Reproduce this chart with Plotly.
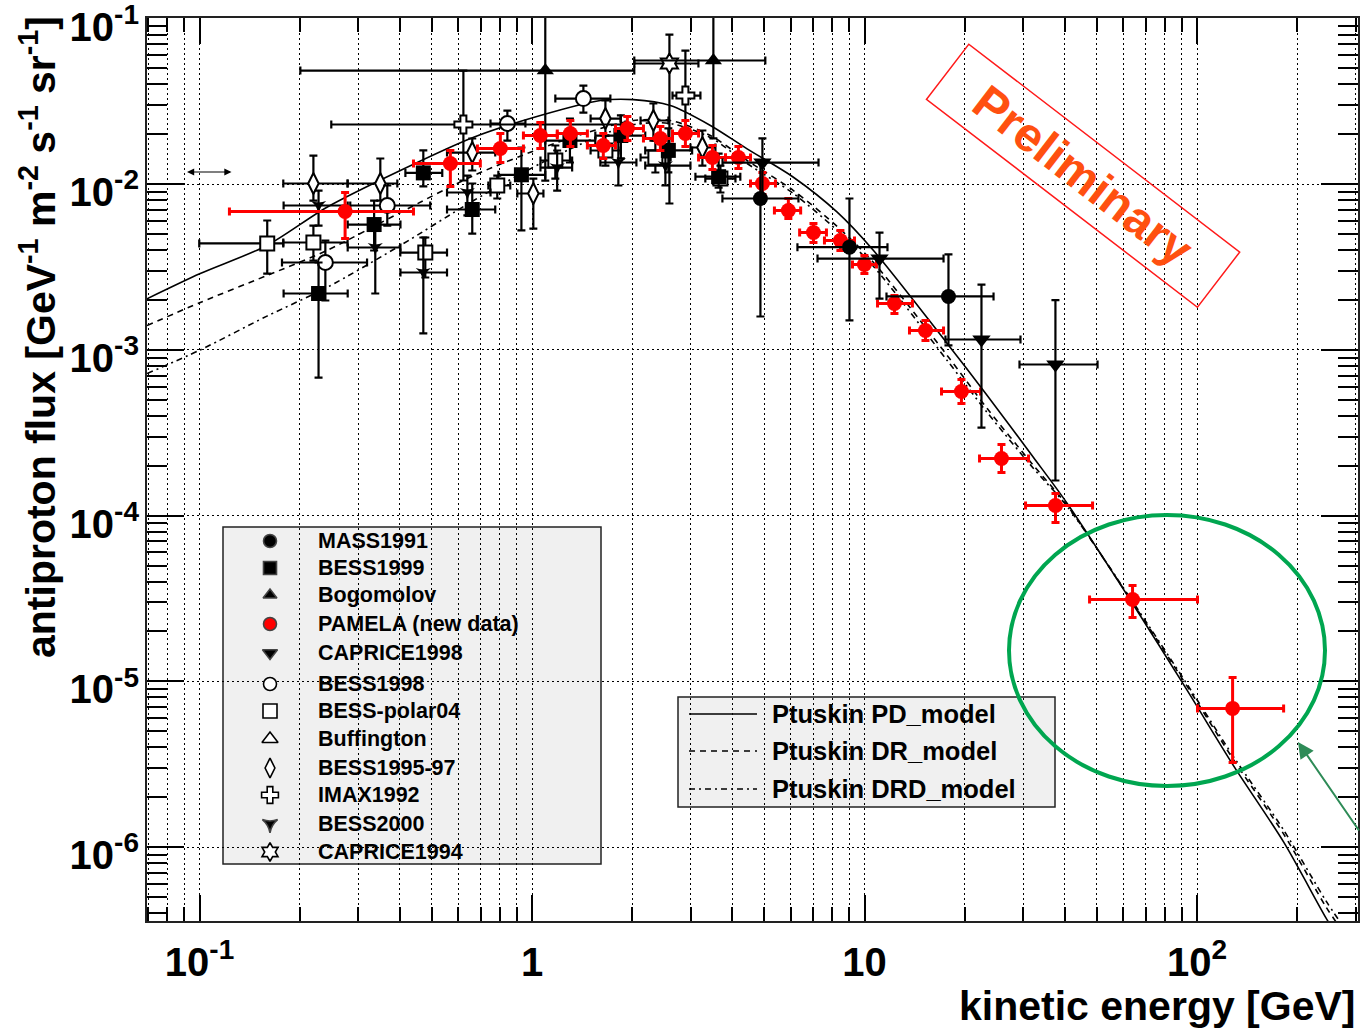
import plotly.graph_objects as go

# ---------------- model curves (Ptuskin et al.) ----------------
model_E = [0.0695, 0.1005, 0.1595, 0.2416, 0.4016, 0.6673, 1.059, 1.605, 2.018, 2.606,
           3.439, 4.435, 6.11, 8.274, 10.64, 17.72, 23.38, 32.22, 40.69, 64.54,
           93.4, 129.1, 182.4, 243.6, 270.0]
pd_flux = [2.035e-3, 2.89e-3, 4.27e-3, 7.26e-3, 1.21e-2, 1.921e-2, 2.597e-2, 3.20e-2, 3.24e-2, 2.985e-2,
           2.263e-2, 1.635e-2, 1.102e-2, 6.78e-3, 3.98e-3, 1.094e-3, 5.31e-4, 2.244e-4, 1.185e-4, 2.871e-5,
           8.82e-6, 3.07e-6, 1.067e-6, 3.77e-7, 2.69e-7]
dr_flux = [1.404e-3, 1.933e-3, 2.813e-3, 3.981e-3, 6.75e-3, 1.128e-2, 1.642e-2, 2.168e-2, 2.423e-2, 2.423e-2,
           1.967e-2, 1.39e-2, 9.16e-3, 5.56e-3, 3.37e-3, 9.26e-4, 4.43e-4, 2.009e-4, 1.152e-4, 2.913e-5,
           9.32e-6, 3.335e-6, 1.193e-6, 4.39e-7, 3.23e-7]
drd_flux = [7.2e-4, 1.0e-3, 1.6e-3, 2.381e-3, 4.27e-3, 7.97e-3, 1.333e-2, 1.967e-2, 2.292e-2, 2.324e-2,
            1.913e-2, 1.333e-2, 8.79e-3, 5.26e-3, 3.19e-3, 8.64e-4, 4.19e-4, 1.927e-4, 1.136e-4, 2.953e-5,
            9.58e-6, 3.48e-6, 1.261e-6, 4.77e-7, 3.51e-7]

# ---------------- measurements: E [GeV], flux, bin edges, flux error limits ----------------
pamela_E = [0.274, 0.568, 0.803, 1.059, 1.304, 1.638, 1.935, 2.432, 2.892, 3.487, 4.175, 4.93,
            5.90, 7.02, 8.46, 9.99, 12.3, 15.25, 19.56, 25.81, 37.52, 63.97, 127.9]
pamela_F = [6.84e-3, 1.333e-2, 1.642e-2, 1.967e-2, 2.022e-2, 1.712e-2, 2.168e-2, 1.887e-2, 2.022e-2,
            1.449e-2, 1.449e-2, 1.01e-2, 6.94e-3, 5.11e-3, 4.57e-3, 3.28e-3, 1.906e-3, 1.31e-3,
            5.61e-4, 2.214e-4, 1.152e-4, 3.12e-5, 6.87e-6]
pamela_Elo = [0.123, 0.44, 0.685, 0.942, 1.191, 1.467, 1.782, 2.163, 2.645, 3.168, 3.818, 4.539,
              5.357, 6.379, 7.575, 9.197, 10.94, 13.65, 17.04, 22.17, 30.49, 47.5, 100.3]
pamela_Ehi = [0.44, 0.699, 0.942, 1.191, 1.467, 1.782, 2.163, 2.645, 3.168, 3.818, 4.539, 5.397,
              6.424, 7.68, 9.326, 10.86, 13.93, 17.28, 22.33, 31.13, 48.5, 100.3, 182.1]
pamela_Flo = [4.70e-3, 9.69e-3, 1.352e-2, 1.642e-2, 1.688e-2, 1.429e-2, 1.835e-2, 1.597e-2, 1.688e-2,
              1.227e-2, 1.244e-2, 8.67e-3, 6.21e-3, 4.45e-3, 3.98e-3, 2.89e-3, 1.659e-3, 1.14e-3,
              4.75e-4, 1.823e-4, 9.1e-5, 2.43e-5, 3.24e-6]
pamela_Fhi = [8.91e-3, 1.597e-2, 2.022e-2, 2.356e-2, 2.423e-2, 2.022e-2, 2.561e-2, 2.229e-2, 2.423e-2,
              1.712e-2, 1.688e-2, 1.177e-2, 8.20e-3, 5.79e-3, 5.26e-3, 3.71e-3, 2.131e-3, 1.506e-3,
              6.63e-4, 2.69e-4, 1.361e-4, 3.79e-5, 1.056e-5]

mass91_E = [4.862, 9.007, 17.88]
mass91_F = [8.2e-3, 4.17e-3, 2.102e-3]
mass91_Elo = [3.737, 6.283, 11.64]
mass91_Ehi = [6.327, 11.72, 24.43]
mass91_Flo = [1.591e-3, 1.506e-3, 1.064e-3]
mass91_Fhi = [1.39e-2, 8.2e-3, 3.77e-3]

bess99_E = [0.228, 0.335, 0.471, 0.661, 0.929, 1.30, 1.85, 2.57, 3.64]
bess99_F = [2.19e-3, 5.71e-3, 1.17e-2, 7.04e-3, 1.14e-2, 1.835e-2, 1.967e-2, 1.6e-2, 1.11e-2]
bess99_Elo = [0.179, 0.279, 0.416, 0.555, 0.792, 1.096, 1.55, 2.19, 3.10]
bess99_Ehi = [0.279, 0.402, 0.537, 0.775, 1.096, 1.55, 2.19, 3.03, 4.23]
bess99_Flo = [6.8e-4, 3.98e-3, 9.7e-3, 5.04e-3, 5.26e-3, 1.352e-2, 1.43e-2, 1.18e-2, 9.55e-3]
bess99_Fhi = [3.37e-3, 7.97e-3, 1.6e-2, 1.01e-2, 1.665e-2, 2.49e-2, 2.6e-2, 2.17e-2, 1.53e-2]

bogo_E = [1.096, 3.51]
bogo_F = [4.85e-2, 5.58e-2]
bogo_Elo = [0.201, 2.03]
bogo_Ehi = [2.03, 5.03]
bogo_Flo = [1.05e-2, 1.89e-2]
bogo_Fhi = [0.15, 0.15]

caprice98_E = [4.93, 11.09, 22.47, 37.5]
caprice98_F = [1.35e-2, 3.56e-3, 1.156e-3, 8.17e-4]
caprice98_Elo = [3.74, 7.22, 17.51, 29.24]
caprice98_Ehi = [7.27, 17.28, 29.44, 50.2]
caprice98_Flo = [7.97e-3, 2.04e-3, 3.4e-4, 1.63e-4]
caprice98_Fhi = [1.89e-2, 5.11e-3, 2.48e-3, 2.0e-3]

bess98_E = [0.239, 0.367, 0.843, 1.427]
bess98_F = [3.37e-3, 7.44e-3, 2.324e-2, 3.289e-2]
bess98_Elo = [0.177, 0.284, 0.75, 1.175]
bess98_Ehi = [0.319, 0.494, 0.955, 1.72]
bess98_Flo = [1.987e-3, 5.63e-3, 1.835e-2, 2.707e-2]
bess98_Fhi = [4.57e-3, 9.82e-3, 2.783e-2, 3.94e-2]

polar04_E = [0.1598, 0.22, 0.4775, 0.786, 1.175, 1.662, 2.349, 3.686]
polar04_F = [4.39e-3, 4.45e-3, 3.87e-3, 9.82e-3, 1.39e-2, 1.597e-2, 1.449e-2, 1.082e-2]
polar04_Elo = [0.0998, 0.1786, 0.4016, 0.739, 1.06, 1.50, 2.12, 3.32]
polar04_Ehi = [0.1786, 0.2788, 0.555, 0.86, 1.32, 1.846, 2.61, 4.09]
polar04_Flo = [2.89e-3, 3.46e-3, 2.736e-3, 8.2e-3, 1.082e-2, 1.296e-2, 1.177e-2, 8.91e-3]
polar04_Fhi = [6.04e-3, 5.63e-3, 4.77e-3, 1.128e-2, 1.712e-2, 1.967e-2, 1.835e-2, 1.296e-2]

bess9597_E = [0.22, 0.3497, 0.661, 1.009, 1.662, 2.317, 3.253]
bess9597_F = [1.01e-2, 1.01e-2, 1.553e-2, 8.79e-3, 2.49e-2, 2.423e-2, 1.665e-2]
bess9597_Elo = [0.1786, 0.2788, 0.555, 0.903, 1.50, 2.12, 2.995]
bess9597_Ehi = [0.2788, 0.3934, 0.775, 1.082, 1.846, 2.571, 3.56]
bess9597_Flo = [7.97e-3, 7.97e-3, 1.21e-2, 5.40e-3, 1.967e-2, 1.835e-2, 1.296e-2]
bess9597_Fhi = [1.489e-2, 1.429e-2, 1.887e-2, 1.082e-2, 3.2e-2, 3.07e-2, 2.109e-2]

imax92_E = [0.6216, 2.892]
imax92_F = [2.292e-2, 3.428e-2]
imax92_Elo = [0.249, 2.645]
imax92_Ehi = [1.909, 3.209]
imax92_Flo = [1.053e-2, 1.913e-2]
imax92_Fhi = [4.85e-2, 6.40e-2]

bess00_E = [0.228, 0.3377, 0.471, 0.639, 1.19, 1.818, 2.518]
bess00_F = [7.44e-3, 4.15e-3, 2.933e-3, 8.91e-3, 1.261e-2, 1.352e-2, 1.296e-2]
bess00_Elo = [0.179, 0.279, 0.402, 0.555, 1.06, 1.605, 2.19]
bess00_Ehi = [0.279, 0.402, 0.555, 0.75, 1.32, 2.06, 2.995]
bess00_Flo = [5.63e-3, 2.19e-3, 1.257e-3, 6.48e-3, 9.16e-3, 9.82e-3, 9.82e-3]
bess00_Fhi = [9.16e-3, 5.63e-3, 4.77e-3, 1.128e-2, 1.597e-2, 1.835e-2, 1.712e-2]

caprice94_E = [2.589]
caprice94_F = [5.35e-2]
caprice94_Elo = [2.031]
caprice94_Ehi = [3.165]
caprice94_Flo = [7.65e-3]
caprice94_Fhi = [8.0e-2]

# ---------------- axis ticks ----------------
x_major = [0.1, 1, 10, 100]
x_major_text = ["10<sup>-1</sup>", "1", "10", "10<sup>2</sup>"]
y_major = [1e-1, 1e-2, 1e-3, 1e-4, 1e-5, 1e-6]
y_major_text = ["10<sup>-1</sup>", "10<sup>-2</sup>", "10<sup>-3</sup>",
                "10<sup>-4</sup>", "10<sup>-5</sup>", "10<sup>-6</sup>"]
x_minor = [k * 10.0 ** d for d in range(-2, 3) for k in range(2, 10)]
y_minor = [k * 10.0 ** d for d in range(-7, -1) for k in range(2, 10)]

legend_labels = ["MASS1991", "BESS1999", "Bogomolov", "PAMELA (new data)", "CAPRICE1998",
                 "BESS1998", "BESS-polar04", "Buffington", "BESS1995-97", "IMAX1992",
                 "BESS2000", "CAPRICE1994"]
model_labels = ["Ptuskin PD_model", "Ptuskin DR_model", "Ptuskin DRD_model"]

# ---------------- page geometry (pixels) ----------------
W, H = 1360, 1030
L, R, T, B = 147, 1358, 18, 921


def px(x):
    return (x - L) / (R - L)


def py(y):
    return (B - y) / (B - T)


RED = "#ff0000"
FONT = "Liberation Sans, Arial, Helvetica, sans-serif"

fig = go.Figure()

# model lines
dash_styles = ["solid", "6px,5px", "6px,4px,2px,4px"]
for flux, dash in zip([pd_flux, dr_flux, drd_flux], dash_styles):
    fig.add_trace(go.Scatter(x=model_E, y=flux, mode="lines",
                             line=dict(color="black", width=1.6, dash=dash, shape="spline", smoothing=0.8),
                             hoverinfo="skip"))


def points(E, F, Elo, Ehi, Flo, Fhi, marker, color="black", ew=2.2):
    return go.Scatter(
        x=E, y=F, mode="markers", marker=marker, cliponaxis=True,
        error_x=dict(type="data", symmetric=False,
                     array=[h - e for e, h in zip(E, Ehi)],
                     arrayminus=[e - l for e, l in zip(E, Elo)],
                     color=color, thickness=ew, width=4),
        error_y=dict(type="data", symmetric=False,
                     array=[h - f for f, h in zip(F, Fhi)],
                     arrayminus=[f - l for f, l in zip(F, Flo)],
                     color=color, thickness=ew, width=4),
    )


def open_marker(symbol, size=13):
    return dict(symbol=symbol, size=size, color="white", line=dict(color="black", width=2))


def full_marker(symbol, size=13, color="black"):
    return dict(symbol=symbol, size=size, color=color, line=dict(width=0))


fig.add_trace(points(polar04_E, polar04_F, polar04_Elo, polar04_Ehi, polar04_Flo, polar04_Fhi,
                     open_marker("square", 14)))
fig.add_trace(points(bess9597_E, bess9597_F, bess9597_Elo, bess9597_Ehi, bess9597_Flo, bess9597_Fhi,
                     open_marker("diamond-tall", 15)))
fig.add_trace(points(bess98_E, bess98_F, bess98_Elo, bess98_Ehi, bess98_Flo, bess98_Fhi,
                     open_marker("circle", 15)))
fig.add_trace(points(imax92_E, imax92_F, imax92_Elo, imax92_Ehi, imax92_Flo, imax92_Fhi,
                     open_marker("cross", 15)))
fig.add_trace(points(caprice94_E, caprice94_F, caprice94_Elo, caprice94_Ehi, caprice94_Flo, caprice94_Fhi,
                     open_marker("hexagram", 15)))
fig.add_trace(points(bess00_E, bess00_F, bess00_Elo, bess00_Ehi, bess00_Flo, bess00_Fhi,
                     full_marker("star-triangle-down", 11)))
fig.add_trace(points(bess99_E, bess99_F, bess99_Elo, bess99_Ehi, bess99_Flo, bess99_Fhi,
                     full_marker("square", 15)))
fig.add_trace(points(bogo_E, bogo_F, bogo_Elo, bogo_Ehi, bogo_Flo, bogo_Fhi,
                     full_marker("triangle-up", 15)))
fig.add_trace(points(pamela_E, pamela_F, pamela_Elo, pamela_Ehi, pamela_Flo, pamela_Fhi,
                     full_marker("circle", 15, RED), color=RED, ew=3))
fig.add_trace(points(caprice98_E, caprice98_F, caprice98_Elo, caprice98_Ehi, caprice98_Flo, caprice98_Fhi,
                     full_marker("triangle-down", 16)))
fig.add_trace(points(mass91_E, mass91_F, mass91_Elo, mass91_Ehi, mass91_Flo, mass91_Fhi,
                     full_marker("circle", 15)))

# ---------------- legend boxes (drawn on an overlay axis in plot-fraction units) ----------------
leg_rows = [541, 568, 595, 624, 653, 684, 711, 739, 768, 795, 824, 852]
leg_markers = [full_marker("circle", 13), full_marker("square", 13), full_marker("triangle-up", 12),
               full_marker("circle", 13, RED), full_marker("triangle-down", 13),
               open_marker("circle", 13), open_marker("square", 14), open_marker("triangle-up", 14),
               open_marker("diamond-tall", 14), open_marker("cross", 14),
               full_marker("star-triangle-down", 11), open_marker("hexagram", 14)]
for yrow, mk in zip(leg_rows, leg_markers):
    m = dict(mk)
    if isinstance(m.get("line"), dict):
        m["line"] = dict(m["line"], width=1.6)
    fig.add_trace(go.Scatter(x=[px(270)], y=[py(yrow)], mode="markers", marker=m,
                             xaxis="x2", yaxis="y2", hoverinfo="skip"))

shapes = [
    dict(type="rect", xref="paper", yref="paper", x0=px(223), x1=px(601), y0=py(864), y1=py(527),
         fillcolor="#f0f0f0", line=dict(color="#222", width=1.5), layer="between"),
    dict(type="rect", xref="paper", yref="paper", x0=px(678), x1=px(1055), y0=py(807), y1=py(697),
         fillcolor="#f0f0f0", line=dict(color="#222", width=1.5), layer="between"),
]
annotations = []
for yrow, lab in zip(leg_rows, legend_labels):
    annotations.append(dict(x=px(316), y=py(yrow), xref="paper", yref="paper", text=lab,
                            showarrow=False, xanchor="left", yanchor="middle",
                            font=dict(family=FONT, size=21.5, color="black", weight="bold")))

model_rows = [714, 751, 789]
for yrow, lab, dash in zip(model_rows, model_labels, dash_styles):
    shapes.append(dict(type="line", xref="paper", yref="paper", x0=px(689), x1=px(757),
                       y0=py(yrow), y1=py(yrow), line=dict(color="black", width=1.6, dash=dash)))
    annotations.append(dict(x=px(770), y=py(yrow), xref="paper", yref="paper", text=lab,
                            showarrow=False, xanchor="left", yanchor="middle",
                            font=dict(family=FONT, size=25.5, color="black", weight="bold")))

# highlight ellipse around the high-energy points
shapes.append(dict(type="circle", xref="paper", yref="paper", x0=px(1009), x1=px(1325),
                   y0=py(786), y1=py(515), line=dict(color="#00a650", width=4), layer="above"))

# "Preliminary" stamp
annotations.append(dict(x=px(1083), y=py(175), xref="paper", yref="paper", text="Preliminary",
                        showarrow=False, textangle=37.5, width=330, height=58, borderpad=5,
                        xanchor="center", yanchor="middle",
                        bordercolor="#ff1a1a", borderwidth=1.5,
                        font=dict(family=FONT, size=48, color="#ff5010", weight="bold")))

# green pointer arrow
annotations.append(dict(x=px(1298), y=py(742), xref="paper", yref="paper", text="",
                        showarrow=True, ax=64, ay=90, arrowcolor="#2e8b57", arrowwidth=2,
                        arrowhead=2, arrowsize=1.6))

# small double arrow
annotations.append(dict(x=px(187), y=py(172), xref="paper", yref="paper", text="",
                        showarrow=True, ax=46, ay=0, arrowside="end+start", arrowcolor="black",
                        arrowwidth=1.2, arrowhead=2, arrowsize=1.2))

# axis titles
annotations.append(dict(x=px(38), y=py(14), xref="paper", yref="paper",
                        text="antiproton flux [GeV<sup>-1</sup> m<sup>-2</sup> s<sup>-1</sup> sr<sup>-1</sup>]",
                        showarrow=False, textangle=-90, xanchor="center", yanchor="top",
                        font=dict(family=FONT, size=41, color="black", weight="bold")))
annotations.append(dict(x=px(1357), y=py(1006), xref="paper", yref="paper",
                        text="kinetic energy [GeV]", showarrow=False, xanchor="right", yanchor="middle",
                        font=dict(family=FONT, size=41, color="black", weight="bold")))

GRID_DASH = "2px,3px"
fig.update_layout(
    width=W, height=H,
    margin=dict(l=L, r=W - R, t=T, b=H - B, pad=0, autoexpand=False),
    paper_bgcolor="white", plot_bgcolor="white",
    showlegend=False,
    xaxis=dict(type="log", range=[-1.158, 2.484], showline=True, linecolor="#222", linewidth=2,
               mirror="allticks", ticks="inside", ticklen=26, tickwidth=1.5, tickcolor="black",
               tickmode="array", tickvals=x_major, ticktext=x_major_text,
               tickfont=dict(family=FONT, size=40, color="black", weight="bold"),
               ticklabelstandoff=5, automargin=False,
               showgrid=True, gridcolor="black", gridwidth=1.2, griddash=GRID_DASH,
               minor=dict(tickmode="array", tickvals=x_minor, ticks="inside", ticklen=14,
                          tickwidth=1.5, tickcolor="black", showgrid=True, gridcolor="black",
                          gridwidth=1.2, griddash=GRID_DASH),
               zeroline=False),
    yaxis=dict(type="log", range=[-6.446, -0.997], showline=True, linecolor="#222", linewidth=2,
               mirror="allticks", ticks="inside", ticklen=37, tickwidth=1.5, tickcolor="black",
               tickmode="array", tickvals=y_major, ticktext=y_major_text,
               tickfont=dict(family=FONT, size=40, color="black", weight="bold"),
               ticklabelstandoff=-2, ticklabelshift=8, ticklabeloverflow="allow",
               automargin=False,
               showgrid=True, gridcolor="black", gridwidth=1.2, griddash=GRID_DASH,
               minor=dict(tickmode="array", tickvals=y_minor, ticks="inside", ticklen=20,
                          tickwidth=1.5, tickcolor="black", showgrid=False),
               zeroline=False),
    xaxis2=dict(overlaying="x", range=[0, 1], visible=False, fixedrange=True),
    yaxis2=dict(overlaying="y", range=[0, 1], visible=False, fixedrange=True),
    shapes=shapes,
    annotations=annotations,
)

fig.write_html("out.html")
